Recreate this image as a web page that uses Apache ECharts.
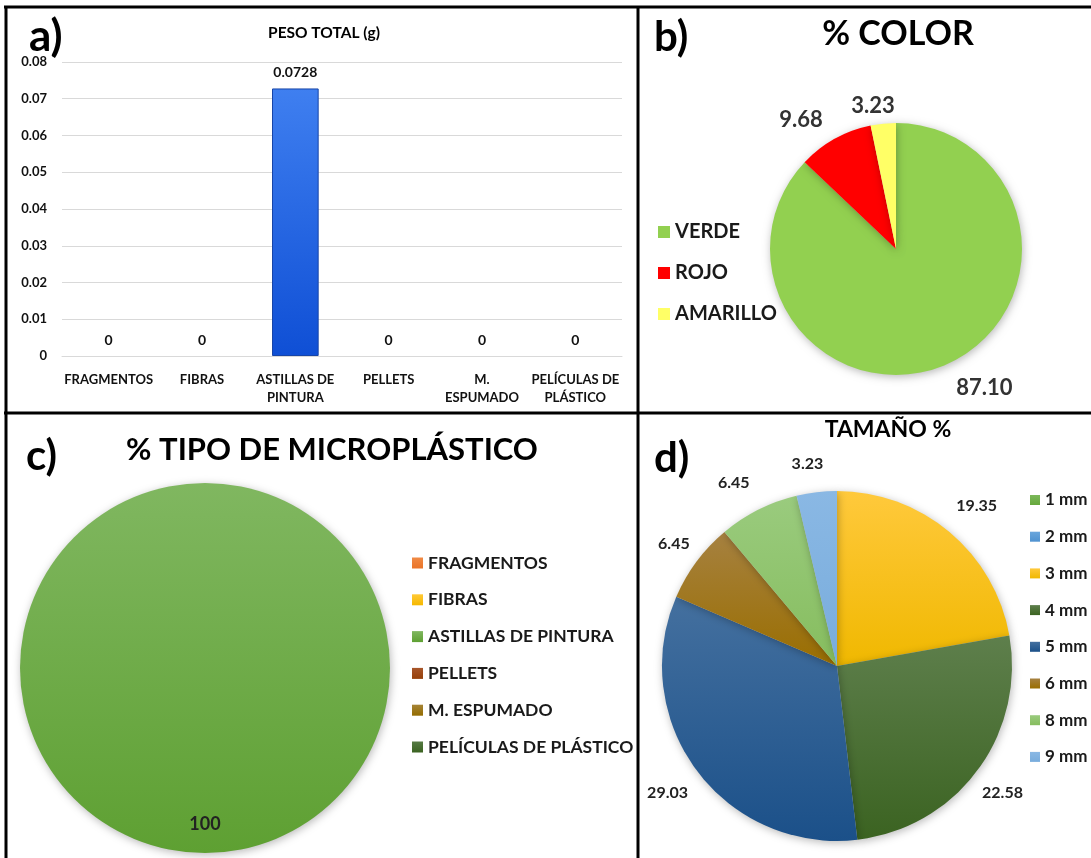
<!DOCTYPE html>
<html>
<head>
<meta charset="utf-8">
<script src="https://cdn.jsdelivr.net/npm/echarts@6/dist/echarts.min.js"></script>
<style>
  html, body { margin: 0; padding: 0; background: #fff; }
  #chart { width: 1091px; height: 858px; }
</style>
</head>
<body>
<div id="chart"></div>
<script>
// a) total weight per microplastic type
const typeLabels = ['FRAGMENTOS', 'FIBRAS', 'ASTILLAS DE PINTURA', 'PELLETS', 'M. ESPUMADO', 'PELÍCULAS DE PLÁSTICO'];
const weightValues = [0, 0, 0.0728, 0, 0, 0];

// b) colour share (%)
const colorLabels = ['VERDE', 'ROJO', 'AMARILLO'];
const colorValues = [87.10, 9.68, 3.23];

// c) microplastic type share (%)
const typeValues = [0, 0, 100, 0, 0, 0];

// d) size share (%)
const sizeLabels = ['1 mm', '2 mm', '3 mm', '4 mm', '5 mm', '6 mm', '8 mm', '9 mm'];
const sizeValues = [0, 0, 19.35, 22.58, 29.03, 6.45, 6.45, 3.23];

const FONT = 'Lato, "Open Sans", sans-serif';

function vGrad(top, bottom) {
  return new echarts.graphic.LinearGradient(0, 0, 0, 1, [
    { offset: 0, color: top }, { offset: 1, color: bottom }
  ]);
}

const colorPalette = ['#92d050', '#ff0000', '#ffff66'];
const typePalette = [
  ['#f08a45', '#ea7428'], ['#ffc936', '#f5b800'], ['#80b760', '#5ea032'],
  ['#a8562a', '#96400a'], ['#a58436', '#946c00'], ['#567a44', '#3b6321']
];
const sizePalette = [
  ['#7cb85a', '#66a83c'], ['#6aa6dc', '#4f92d0'], ['#ffc93c', '#f0b800'],
  ['#5e7f4c', '#3b6321'], ['#44709f', '#1b5089'], ['#a68140', '#9a6e00'],
  ['#9acb7e', '#86bd5e'], ['#8ab8e4', '#78acdc']
];

// small nudges applied after the pie label layout
const colorLabelNudge = [[0, 10], [7, -14], [18, -4]];
const sizeLabelNudge = [[0, 0], [0, 0], [-6, -17], [-10, 15], [6, 15], [3, -11], [4, -19], [13, -16]];

function nudge(table) {
  return p => {
    const d = table[p.dataIndex] || [0, 0];
    return { dx: d[0], dy: d[1] };
  };
}

function wrapLabel(s) {
  if (s.indexOf(' ') > 0 && s.length > 8) {
    const i = s.lastIndexOf(' ');
    return s.slice(0, i) + '\n' + s.slice(i + 1);
  }
  return s;
}

const pieShadow = { shadowBlur: 8, shadowColor: 'rgba(0,0,0,0.28)', shadowOffsetX: 1, shadowOffsetY: 2 };

const chart = echarts.init(document.getElementById('chart'), null, { renderer: 'canvas' });

const option = {
  backgroundColor: '#ffffff',
  animation: false,
  textStyle: { fontFamily: FONT },
  title: [
    { text: 'a)', left: 29, top: 15, padding: 0, textStyle: { fontFamily: FONT, fontSize: 44, fontWeight: 'bold', color: '#000' } },
    { text: 'PESO TOTAL (g)', left: 324, top: 25, textAlign: 'center', padding: 0, textStyle: { fontFamily: FONT, fontSize: 15.5, fontWeight: 'bold', color: '#000' } },
    { text: 'b)', left: 654, top: 16, padding: 0, textStyle: { fontFamily: FONT, fontSize: 42, fontWeight: 'bold', color: '#000' } },
    { text: '% COLOR', left: 898, top: 17, textAlign: 'center', padding: 0, textStyle: { fontFamily: FONT, fontSize: 34, fontWeight: 'bold', color: '#000' } },
    { text: 'c)', left: 26, top: 435, padding: 0, textStyle: { fontFamily: FONT, fontSize: 42, fontWeight: 'bold', color: '#000' } },
    { text: '% TIPO DE MICROPLÁSTICO', left: 332, top: 434, textAlign: 'center', padding: 0, textStyle: { fontFamily: FONT, fontSize: 31, fontWeight: 'bold', color: '#000' } },
    { text: 'd)', left: 654, top: 437, padding: 0, textStyle: { fontFamily: FONT, fontSize: 42, fontWeight: 'bold', color: '#000' } },
    { text: 'TAMAÑO %', left: 888, top: 418, textAlign: 'center', padding: 0, textStyle: { fontFamily: FONT, fontSize: 23, fontWeight: 'bold', color: '#000' } }
  ],
  legend: [
    {
      data: colorLabels, orient: 'vertical', left: 658, top: 221, padding: 0,
      itemWidth: 12, itemHeight: 12, itemGap: 19, icon: 'rect', selectedMode: false,
      textStyle: { fontFamily: FONT, fontSize: 20, fontWeight: 'bold', color: '#1a1a1a', lineHeight: 22 }
    },
    {
      data: typeLabels, orient: 'vertical', left: 412, top: 553, padding: 0,
      itemWidth: 11, itemHeight: 11, itemGap: 16.8, icon: 'rect', selectedMode: false,
      textStyle: { fontFamily: FONT, fontSize: 17.5, fontWeight: 'bold', color: '#1a1a1a', lineHeight: 20 }
    },
    {
      data: sizeLabels, orient: 'vertical', left: 1030, top: 490, padding: 0,
      itemWidth: 10, itemHeight: 10, itemGap: 16.7, icon: 'rect', selectedMode: false,
      textStyle: { fontFamily: FONT, fontSize: 17, fontWeight: 'bold', color: '#1a1a1a', lineHeight: 20 }
    }
  ],
  grid: { left: 62, right: 469, top: 62, bottom: 502, containLabel: false },
  xAxis: {
    type: 'category', data: typeLabels,
    axisLine: { lineStyle: { color: '#d9d9d9', width: 1 } },
    axisTick: { show: false },
    axisLabel: {
      interval: 0, margin: 15, lineHeight: 18,
      fontFamily: FONT, fontSize: 13, fontWeight: 'bold', color: '#111',
      formatter: wrapLabel
    }
  },
  yAxis: {
    type: 'value', min: 0, max: 0.08, interval: 0.01,
    axisLine: { show: false }, axisTick: { show: false },
    splitLine: { lineStyle: { color: '#d9d9d9', width: 1 } },
    axisLabel: {
      margin: 15, fontFamily: FONT, fontSize: 13, fontWeight: 'bold', color: '#111',
      formatter: v => (v === 0 ? '0' : v.toFixed(2))
    }
  },
  series: [
    {
      name: 'PESO TOTAL (g)', type: 'bar', barWidth: '50%',
      data: weightValues.map(v => ({ value: v, itemStyle: v ? {} : { borderWidth: 0 } })),
      itemStyle: { color: vGrad('#3f7ff0', '#0f4fd5'), borderColor: '#1745a8', borderWidth: 1 },
      label: {
        show: true, position: 'top', distance: 9,
        fontFamily: FONT, fontSize: 14, fontWeight: 'bold', color: '#111',
        formatter: p => String(p.value)
      }
    },
    {
      name: 'COLOR', type: 'pie', center: [896, 249], radius: 126, startAngle: 90, clockwise: true,
      data: colorLabels.map((n, i) => ({ name: n, value: colorValues[i], itemStyle: { color: colorPalette[i] } })),
      itemStyle: Object.assign({ borderWidth: 0 }, pieShadow),
      label: {
        show: true, position: 'outside',
        fontFamily: FONT, fontSize: 22, fontWeight: 'bold', color: '#333',
        formatter: p => p.value.toFixed(2)
      },
      labelLine: { show: false, length: 14, length2: 0 },
      labelLayout: nudge(colorLabelNudge),
      emphasis: { disabled: true }
    },
    {
      name: 'TIPO', type: 'pie', center: [205, 668], radius: 185, startAngle: 90, clockwise: true,
      data: typeLabels.map((n, i) => ({ name: n, value: typeValues[i], itemStyle: { color: vGrad(typePalette[i][0], typePalette[i][1]) } })),
      itemStyle: Object.assign({ borderWidth: 0 }, pieShadow),
      label: {
        show: true, position: 'inside', offset: [0, 61],
        fontFamily: FONT, fontSize: 18, fontWeight: 'bold', color: '#222',
        formatter: p => (p.value ? String(p.value) : '')
      },
      labelLine: { show: false },
      emphasis: { disabled: true }
    },
    {
      name: 'TAMAÑO', type: 'pie', center: [837, 666], radius: 175, startAngle: 90, clockwise: true,
      data: sizeLabels.map((n, i) => ({ name: n, value: sizeValues[i], itemStyle: { color: vGrad(sizePalette[i][0], sizePalette[i][1]) } })),
      itemStyle: Object.assign({ borderWidth: 0 }, pieShadow),
      label: {
        show: true, position: 'outside',
        fontFamily: FONT, fontSize: 16, fontWeight: 'bold', color: '#222',
        formatter: p => (p.value ? p.value.toFixed(2) : '')
      },
      labelLine: { show: false, length: 12, length2: 0 },
      labelLayout: nudge(sizeLabelNudge),
      emphasis: { disabled: true }
    }
  ],
  graphic: [
    // panel frames
    { type: 'line', silent: true, shape: { x1: 4, y1: 7, x2: 1091, y2: 7 }, style: { stroke: '#000', lineWidth: 3 } },
    { type: 'line', silent: true, shape: { x1: 6, y1: 6, x2: 6, y2: 858 }, style: { stroke: '#000', lineWidth: 3 } },
    { type: 'line', silent: true, shape: { x1: 638, y1: 6, x2: 638, y2: 858 }, style: { stroke: '#000', lineWidth: 3 } },
    { type: 'line', silent: true, shape: { x1: 4, y1: 413, x2: 1091, y2: 413 }, style: { stroke: '#000', lineWidth: 3 } }
  ]
};

chart.setOption(option);
</script>
</body>
</html>
